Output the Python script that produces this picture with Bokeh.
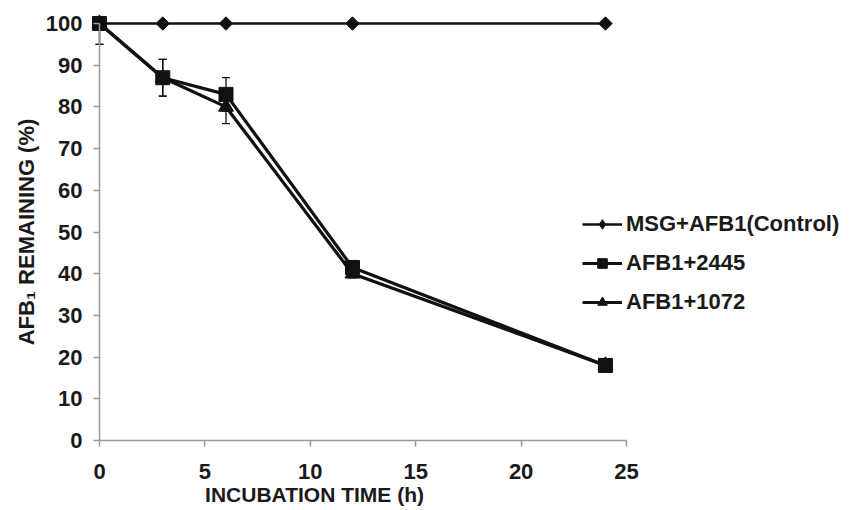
import numpy as np
from bokeh.plotting import figure
from bokeh.models import (Range1d, Legend, LegendItem, Whisker, ColumnDataSource, Label)
from bokeh.embed import file_html
from bokeh.resources import INLINE

# Data
time_h = [0, 3, 6, 12, 24]
control = [100, 100, 100, 100, 100]
afb_2445 = [100, 87, 83, 41.5, 18]
afb_1072 = [100, 87, 80, 40, 18]
err_2445 = [5, 4.4, 4, 1, 0.5]
err_1072 = [5, 4.4, 4, 1, 0.5]
x_ticks = [0, 5, 10, 15, 20, 25]
y_ticks = [0, 10, 20, 30, 40, 50, 60, 70, 80, 90, 100]

FONT = "Liberation Sans"
INK = "#1a1a1a"
AXC = "#9a9a9a"
W, H = 852, 510

# frame covers whole canvas; axes are pinned at x=0 / y=0
p = figure(width=W, height=H, output_backend="svg", toolbar_location=None,
           x_range=Range1d(-4.697, 35.72), y_range=Range1d(-16.79, 105.52),
           min_border_left=0, min_border_right=0, min_border_top=0, min_border_bottom=0)
p.outline_line_color = None
p.grid.visible = False

xa = p.xaxis[0]
ya = p.yaxis[0]
for ax in (xa, ya):
    ax.axis_line_color = AXC
    ax.axis_line_width = 1.5
    ax.major_tick_line_color = AXC
    ax.major_tick_line_width = 1.5
    ax.major_tick_out = 6
    ax.major_tick_in = 0
    ax.minor_tick_line_color = None
    ax.major_label_text_font = FONT
    ax.major_label_text_font_style = "bold"
    ax.major_label_text_font_size = "22px"
    ax.major_label_text_color = INK
    ax.fixed_location = 0
xa.ticker = x_ticks
ya.ticker = y_ticks
xa.bounds = (0, 25)
ya.bounds = (0, 100)
xa.major_label_standoff = 18
ya.major_label_standoff = 11

# axis titles
p.add_layout(Label(x=314, y=H - 494, x_units="screen", y_units="screen",
                   text="INCUBATION TIME (h)", text_align="center", text_baseline="middle",
                   text_font=FONT, text_font_style="bold", text_font_size="21px",
                   text_color=INK))
p.add_layout(Label(x=26, y=H - 231.5, x_units="screen", y_units="screen", angle=np.pi / 2,
                   text="AFB\u2081 REMAINING (%)", text_align="center", text_baseline="middle",
                   text_font=FONT, text_font_style="bold", text_font_size="22px",
                   text_color=INK))

# error bars
for ys, es in ((afb_2445, err_2445), (afb_1072, err_1072)):
    y = np.array(ys, dtype=float)
    e = np.array(es, dtype=float)
    src = ColumnDataSource(dict(x=time_h, lo=y - e, hi=np.minimum(y + e, 100)))
    w = Whisker(base="x", lower="lo", upper="hi", source=src, dimension="height",
                line_color="#111111", line_width=1.3)
    for h in (w.upper_head, w.lower_head):
        h.size = 8
        h.line_color = "#111111"
        h.line_width = 1.3
    p.add_layout(w)

c_line = p.line(time_h, control, line_color="#111111", line_width=2.5)
p.scatter(time_h, control, marker="square", angle=np.pi / 4, size=9.5,
          fill_color="#111111", line_color="#111111")
a_line = p.line(time_h, afb_1072, line_color="#111111", line_width=3.2)
a_mark = p.scatter(time_h, afb_1072, marker="triangle", size=15,
                   fill_color="#111111", line_color="#111111")
b_line = p.line(time_h, afb_2445, line_color="#111111", line_width=3.2)
b_mark = p.scatter(time_h, afb_2445, marker="square", size=14,
                   fill_color="#111111", line_color="#111111")
# legend-only diamond glyph (draws no point on the chart)
c_leg = p.scatter(x=[np.nan], y=[np.nan], marker="diamond",
                  fill_color="#111111", line_color="#111111")

legend = Legend(items=[
    LegendItem(label="MSG+AFB1(Control)", renderers=[c_line, c_leg]),
    LegendItem(label="AFB1+2445", renderers=[b_line, b_mark]),
    LegendItem(label="AFB1+1072", renderers=[a_line, a_mark]),
], location=(582, H - 315))
legend.background_fill_alpha = 0
legend.border_line_color = None
legend.padding = 0
legend.margin = 0
legend.spacing = 13
legend.glyph_width = 40
legend.glyph_height = 24
legend.label_height = 24
legend.label_standoff = 4
legend.label_text_font = FONT
legend.label_text_font_style = "bold"
legend.label_text_font_size = "22px"
legend.label_text_color = INK
p.add_layout(legend, "center")

open("out.html", "w").write(file_html(p, INLINE))
